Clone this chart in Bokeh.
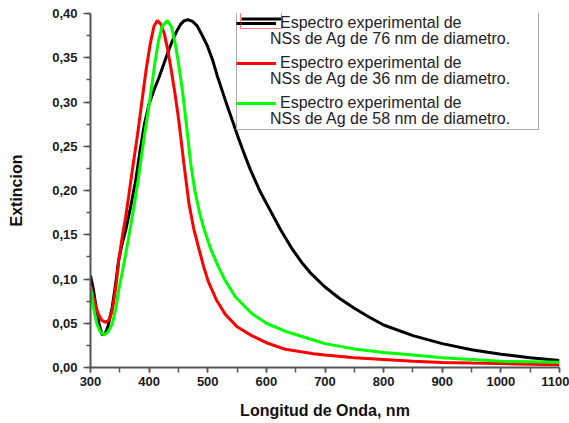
from bokeh.plotting import figure
from bokeh.models import (Legend, LegendItem, SingleIntervalTicker, CustomJSTickFormatter, Range1d)
from bokeh.embed import file_html
from bokeh.resources import INLINE

# ---- data ----
wl_76 = [300, 305, 310, 315, 320, 325, 330, 337, 343, 348, 354, 360, 368, 377, 385, 392, 400, 408, 417,
         425, 432, 439, 447, 454, 460, 466, 474, 482, 490, 499, 508, 516, 525, 533, 542, 553, 563, 573,
         590, 607, 624, 644, 660, 675, 700, 725, 750, 775, 800, 850, 900, 950, 1000, 1050, 1100]
ext_76 = [0.104, 0.088, 0.066, 0.048, 0.037, 0.038, 0.047, 0.068, 0.095, 0.121, 0.140, 0.155, 0.180,
          0.211, 0.247, 0.275, 0.298, 0.313, 0.328, 0.343, 0.356, 0.368, 0.380, 0.388, 0.392, 0.393,
          0.391, 0.386, 0.376, 0.364, 0.348, 0.330, 0.312, 0.296, 0.279, 0.258, 0.240, 0.223, 0.198,
          0.177, 0.156, 0.134, 0.119, 0.107, 0.091, 0.078, 0.067, 0.057, 0.048, 0.036, 0.027, 0.020,
          0.015, 0.011, 0.008]

wl_36 = [300, 305, 310, 315, 320, 326, 332, 337, 343, 348, 354, 360, 365, 372, 380, 388, 395, 402, 408,
         414, 420, 426, 432, 438, 444, 451, 459, 468, 476, 485, 493, 501, 515, 530, 550, 575, 600, 630,
         680, 700, 750, 800, 850, 900, 950, 1000, 1050, 1100]
ext_36 = [0.093, 0.079, 0.067, 0.058, 0.053, 0.051, 0.054, 0.064, 0.090, 0.120, 0.147, 0.170, 0.193,
          0.226, 0.262, 0.302, 0.337, 0.366, 0.385, 0.392, 0.388, 0.377, 0.358, 0.335, 0.310, 0.277,
          0.232, 0.185, 0.157, 0.134, 0.114, 0.097, 0.076, 0.060, 0.046, 0.036, 0.028, 0.021, 0.0155,
          0.014, 0.011, 0.009, 0.007, 0.0056, 0.005, 0.0045, 0.0038, 0.003]

wl_58 = [300, 305, 311, 317, 323, 330, 337, 343, 348, 354, 360, 368, 375, 382, 391, 402, 410, 416, 422,
         431, 438, 444, 451, 457, 464, 471, 478, 486, 493, 505, 518, 530, 547, 575, 600, 632, 683, 700,
         750, 800, 850, 900, 950, 1000, 1050, 1100]
ext_58 = [0.091, 0.068, 0.049, 0.040, 0.037, 0.040, 0.049, 0.066, 0.087, 0.107, 0.128, 0.158, 0.185,
          0.215, 0.258, 0.306, 0.345, 0.369, 0.385, 0.392, 0.385, 0.368, 0.340, 0.312, 0.272, 0.230,
          0.200, 0.175, 0.158, 0.134, 0.114, 0.098, 0.080, 0.061, 0.050, 0.041, 0.0305, 0.027, 0.021,
          0.017, 0.014, 0.011, 0.009, 0.007, 0.0065, 0.006]

legend_first = "Espectro experimental de"
legend_second = ["NSs de Ag de 76 nm de diametro.",
                 "NSs de Ag de 36 nm de diametro.",
                 "NSs de Ag de 58 nm de diametro."]
colors = ["#000000", "#ff0000", "#00ff00"]
x_label = "Longitud de Onda, nm"
y_label = "Extincion"

FONT = "Liberation Sans"
AXC = "#555555"
LEG_SIZE = "16px"

p = figure(width=569, height=423, output_backend="svg", toolbar_location=None,
           x_range=Range1d(300, 1100), y_range=Range1d(0, 0.40),
           min_border_left=90, min_border_right=10, min_border_top=13, min_border_bottom=56)
p.outline_line_color = None
p.xgrid.visible = False
p.ygrid.visible = False
p.background_fill_color = "white"
p.border_fill_color = "white"

r76 = p.line(wl_76, ext_76, line_color=colors[0], line_width=3)
r36 = p.line(wl_36, ext_36, line_color=colors[1], line_width=3)
r58 = p.line(wl_58, ext_58, line_color=colors[2], line_width=3)

fmt = CustomJSTickFormatter(code="return tick.toFixed(2).replace('.', ',');")
p.xaxis.ticker = SingleIntervalTicker(interval=100, num_minor_ticks=2)
p.yaxis.ticker = SingleIntervalTicker(interval=0.05, num_minor_ticks=2)
p.yaxis.formatter = fmt

for ax in (p.xaxis[0], p.yaxis[0]):
    ax.axis_line_color = AXC
    ax.axis_line_width = 2
    ax.major_tick_line_color = AXC
    ax.minor_tick_line_color = AXC
    ax.major_tick_line_width = 1.5
    ax.minor_tick_line_width = 1.5
    ax.major_tick_in = 0
    ax.minor_tick_in = 0
    ax.major_label_text_font = FONT
    ax.major_label_text_font_style = "bold"
    ax.major_label_text_font_size = "13px"
    ax.major_label_text_color = "#1a1a1a"
    ax.axis_label_text_font = FONT
    ax.axis_label_text_font_style = "bold"
    ax.axis_label_text_font_size = "16px"
    ax.axis_label_text_color = "#111111"

p.xaxis.major_tick_out = 5
p.xaxis.minor_tick_out = 5
p.yaxis.major_tick_out = 7
p.yaxis.minor_tick_out = 4
p.xaxis.major_label_standoff = 4
p.yaxis.major_label_standoff = 6
p.xaxis.axis_label = x_label
p.yaxis.axis_label = y_label
p.xaxis.axis_label_standoff = 13
p.yaxis.axis_label_standoff = 24

# legend box with the second lines (no glyphs)
items_b = []
for s in legend_second:
    items_b.append(LegendItem(label=" ", renderers=[]))
    items_b.append(LegendItem(label=s, renderers=[]))
leg_b = Legend(items=items_b, location=(146, 237), padding=0, spacing=0,
               glyph_width=0, glyph_height=20, label_height=20, label_standoff=33, label_width=268,
               label_text_font=FONT, label_text_font_size=LEG_SIZE, label_text_color="#222222",
               border_line_color=AXC, border_line_width=1.5,
               background_fill_color="white", background_fill_alpha=1.0, margin=0)
p.add_layout(leg_b)

# legend glyphs and first lines
leg_a = Legend(items=[LegendItem(label=legend_first, renderers=[r]) for r in (r76, r36, r58)],
               location=(146, 254), padding=4, spacing=20,
               glyph_width=40, glyph_height=20, label_height=20, label_standoff=4,
               label_text_font=FONT, label_text_font_size=LEG_SIZE, label_text_color="#222222",
               border_line_color=None, background_fill_alpha=0.0, margin=0)
p.add_layout(leg_a)

# small red selection frame around the first legend glyph
leg_c = Legend(items=[LegendItem(label=" ", renderers=[r76])],
               location=(150, 338), padding=0, spacing=0,
               glyph_width=40, glyph_height=19, label_height=19, label_standoff=0, label_width=0,
               label_text_font_size="1px",
               border_line_color="#ff0000", border_line_width=1,
               background_fill_alpha=0.0, margin=0)
p.add_layout(leg_c)

open("out.html", "w").write(file_html(p, INLINE))
